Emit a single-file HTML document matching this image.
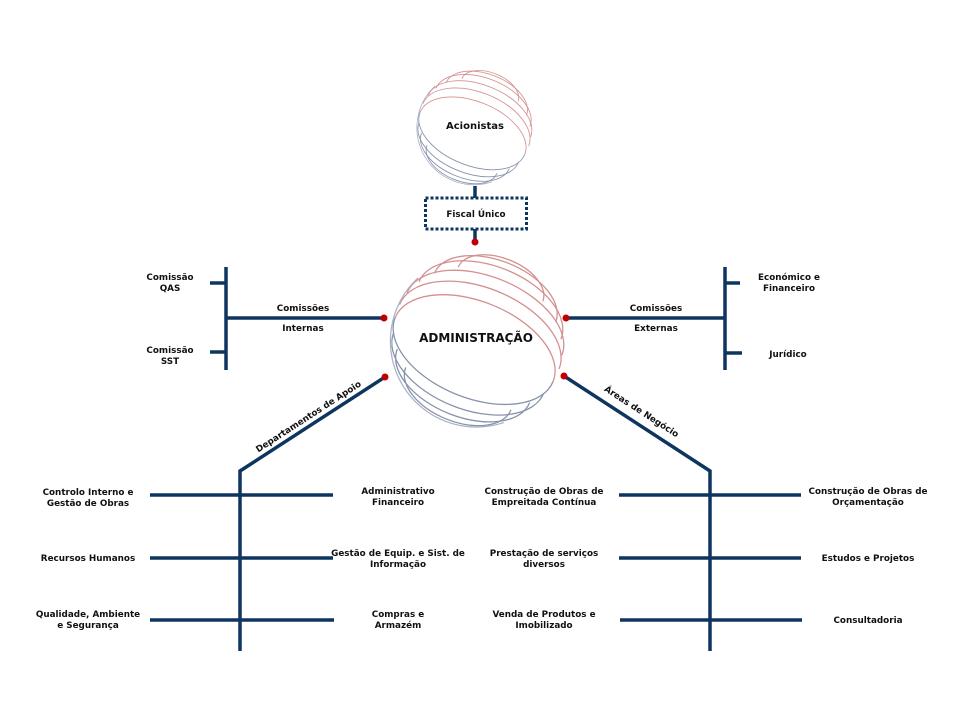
<!DOCTYPE html>
<html><head><meta charset="utf-8"><style>
html,body{margin:0;padding:0;background:#fff;}
svg{display:block;}
text{font-family:"DejaVu Sans","Liberation Sans",sans-serif;font-weight:bold;font-size:8.8px;fill:#111;}
</style></head><body>
<svg width="960" height="720" viewBox="0 0 960 720" xmlns="http://www.w3.org/2000/svg">
<defs>
<clipPath id="cc"><circle cx="0" cy="0" r="101"/></clipPath>
<g id="globe">
 <g clip-path="url(#cc)">
 <g transform="rotate(22)" fill="none" stroke-width="1.5">
  <g stroke="#d58f8f">
   <path d="M-53,-70 A53,30 0 0 1 53,-70"/>
   <path d="M-76,-53 A76,43 0 0 1 76,-53"/>
   <path d="M-89,-37 A89,51 0 0 1 89,-37"/>
   <path d="M-97,-20 A97,55 0 0 1 97,-20"/>
   <path d="M-100,-4 A100,57 0 0 1 100,-4"/>
   <path d="M-99,12 A99,56 0 0 1 99,12"/>
  </g>
  <g stroke="#8793ab">
   <path d="M-99,12 A99,56 0 0 0 99,12"/>
   <path d="M-94,29 A94,53 0 0 0 94,29"/>
   <path d="M-83,45 A83,47 0 0 0 83,45"/>
   <path d="M-66,61 A66,38 0 0 0 66,61"/>
  </g>
 </g>
 </g>
 <path d="M-70,-72 A100,100 0 0 0 30,96" fill="none" stroke="#a8b2c4" stroke-width="1.4"/>
</g>
</defs>

<use href="#globe" transform="translate(475,127) scale(0.57)"/>
<use href="#globe" transform="translate(478,340) scale(0.86)"/>

<g stroke="#0e3560" stroke-width="3.5" fill="none">
 <line x1="475" y1="186" x2="475" y2="198"/>
 <line x1="475" y1="229" x2="475" y2="242"/>
 <line x1="226" y1="267" x2="226" y2="370"/>
 <line x1="210" y1="283" x2="226" y2="283"/>
 <line x1="210" y1="352" x2="226" y2="352"/>
 <line x1="226" y1="318" x2="384" y2="318"/>
 <line x1="725" y1="267" x2="725" y2="370"/>
 <line x1="725" y1="283" x2="740" y2="283"/>
 <line x1="725" y1="353" x2="742" y2="353"/>
 <line x1="566" y1="318" x2="725" y2="318"/>
 <polyline points="385,377 240,471 240,651"/>
 <line x1="150" y1="495" x2="333" y2="495"/>
 <line x1="150" y1="558" x2="333" y2="558"/>
 <line x1="150" y1="620" x2="334" y2="620"/>
 <polyline points="564,376 710,471 710,651"/>
 <line x1="619" y1="495" x2="801" y2="495"/>
 <line x1="619" y1="558" x2="801" y2="558"/>
 <line x1="620" y1="620" x2="802" y2="620"/>
</g>
<rect x="425.5" y="198" width="101" height="31" fill="#fff" stroke="#0e3560" stroke-width="3" stroke-dasharray="3,2"/>
<g fill="#c00000">
 <circle cx="475" cy="242" r="3.5"/>
 <circle cx="384" cy="318" r="3.5"/>
 <circle cx="566" cy="318" r="3.5"/>
 <circle cx="385" cy="377" r="3.5"/>
 <circle cx="564" cy="376" r="3.5"/>
</g>

<text x="475" y="129" text-anchor="middle" style="font-size:10px">Acionistas</text>
<text x="476" y="342" text-anchor="middle" style="font-size:12px">ADMINISTRAÇÃO</text>
<text x="476" y="217" text-anchor="middle">Fiscal Único</text>

<g text-anchor="middle">
<text x="170" y="280">Comissão</text><text x="170" y="291">QAS</text>
<text x="170" y="353">Comissão</text><text x="170" y="364">SST</text>
<text x="303" y="311">Comissões</text><text x="303" y="331">Internas</text>
<text x="656" y="311">Comissões</text><text x="656" y="331">Externas</text>
<text x="789" y="280">Económico  e</text><text x="789" y="291">Financeiro</text>
<text x="788" y="357">Jurídico</text>

<text x="88" y="495">Controlo Interno e</text><text x="88" y="506">Gestão de Obras</text>
<text x="88" y="561">Recursos  Humanos</text>
<text x="88" y="617">Qualidade, Ambiente</text><text x="88" y="628">e Segurança</text>
<text x="398" y="494">Administrativo</text><text x="398" y="505">Financeiro</text>
<text x="398" y="556">Gestão de Equip.  e Sist. de</text><text x="398" y="567">Informação</text>
<text x="398" y="617">Compras  e</text><text x="398" y="628">Armazém</text>

<text x="544" y="494">Construção  de Obras de</text><text x="544" y="505">Empreitada Contínua</text>
<text x="544" y="556">Prestação de serviços</text><text x="544" y="567">diversos</text>
<text x="544" y="617">Venda de  Produtos e</text><text x="544" y="628">Imobilizado</text>
<text x="868" y="494">Construção  de Obras de</text><text x="868" y="505">Orçamentação</text>
<text x="868" y="561">Estudos e Projetos</text>
<text x="868" y="623">Consultadoria</text>

<text transform="translate(310,419) rotate(-33)">Departamentos de Apoio</text>
<text transform="translate(640,414) rotate(33)">Áreas de Negócio</text>
</g>
</svg>
</body></html>
